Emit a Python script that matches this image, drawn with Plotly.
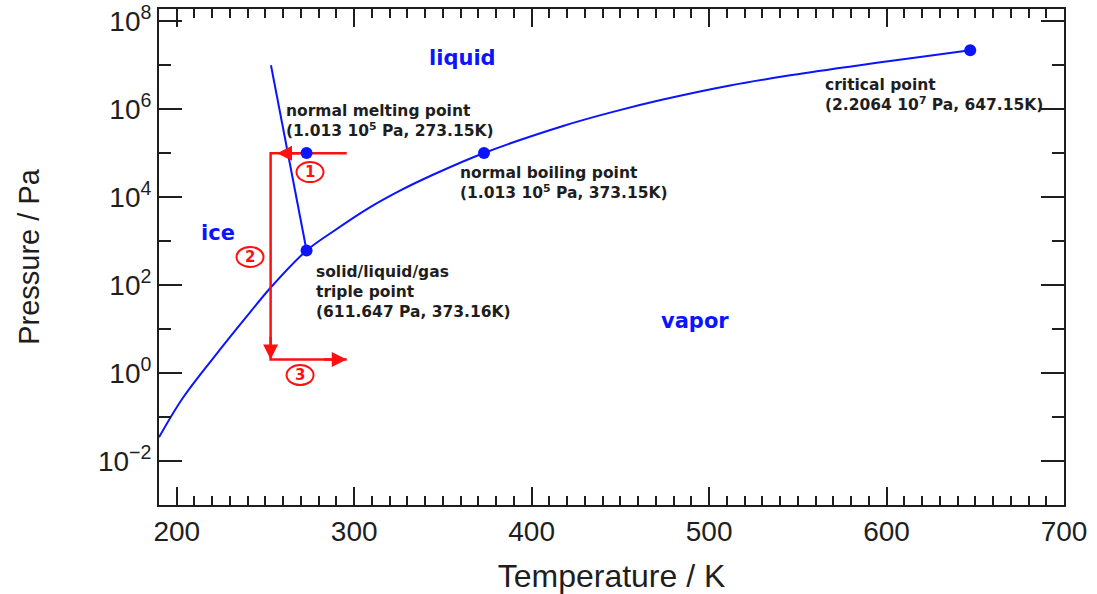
import math
import plotly.graph_objects as go

# ---- data ----
# vapor-pressure / sublimation curve (T in K, P in Pa)
curve_T = [190.0, 203.5, 222.7, 241.3, 252.6, 273.16, 288.1, 307.2, 325.8, 344.4,
           373.15, 417.7, 445.8, 474.0, 511.8, 543.9, 581.1, 618.9, 647.15]
curve_P = [0.0347, 0.275, 2.82, 24.0, 85.1, 611.647, 1660, 5370, 14100, 32400,
           101300, 417000, 871000, 1660000, 3470000, 5750000, 9550000, 15500000, 22064000]

# melting line (straight in the log plot)
melt_T = [253.1, 273.16]
melt_P = [1.0e7, 611.647]

# special points
point_names = ["normal melting point", "normal boiling point", "triple point", "critical point"]
point_T = [273.15, 373.15, 273.16, 647.15]
point_P = [1.013e5, 1.013e5, 611.647, 2.2064e7]

# red path 1 -> 2 -> 3
path_T = [295.8, 252.9, 252.9, 295.8]
path_P = [1.0e5, 1.0e5, 2.05, 2.05]

# labels
label_texts = [
    "normal melting point<br>(1.013 10<sup>5</sup> Pa, 273.15K)",
    "normal boiling point<br>(1.013 10<sup>5</sup> Pa, 373.15K)",
    "solid/liquid/gas<br>triple point<br>(611.647 Pa, 373.16K)",
    "critical point<br>(2.2064 10<sup>7</sup> Pa, 647.15K)",
]
label_T = [260.3, 358.4, 277.2, 564.1]
label_P = [5.5e5, 2.14e4, 69.0, 2.14e6]

region_texts = ["liquid", "ice", "vapor"]
region_T = [361.3, 223.2, 492.1]
region_P = [1.45e7, 1510, 15.1]

step_texts = ["1", "2", "3"]
step_T = [275.1, 241.3, 269.5]
step_P = [37200, 437, 0.90]

x_ticks = [200, 300, 400, 500, 600, 700]
x_minor = list(range(190, 701, 10))
y_tick_exp = [-2, 0, 2, 4, 6, 8]
y_minor_exp = [-3, -1, 1, 3, 5, 7]
Y_RANGE = [-3.0, 8.28]   # log10 range of the pressure axis

BLUE = "#0a14ff"
RED = "#ff1010"
INK = "#1e1e1e"
FONT = "Liberation Sans, Arial, Helvetica, sans-serif"
BFONT = "DejaVu Sans, Verdana, sans-serif"

fig = go.Figure()
fig.add_trace(go.Scatter(x=curve_T, y=curve_P, mode="lines",
                         line=dict(color=BLUE, width=2, shape="spline", smoothing=1.0),
                         hoverinfo="skip"))
fig.add_trace(go.Scatter(x=melt_T, y=melt_P, mode="lines",
                         line=dict(color=BLUE, width=2), hoverinfo="skip"))
fig.add_trace(go.Scatter(x=path_T, y=path_P, mode="lines",
                         line=dict(color=RED, width=2.5), hoverinfo="skip"))
fig.add_trace(go.Scatter(x=point_T, y=point_P, mode="markers", text=point_names,
                         marker=dict(color=BLUE, size=12), hoverinfo="text"))

ann = []
# arrow heads of the red path
heads = [(256.5, path_P[0], 24, 0), (path_T[1], path_P[2], 0, -24), (path_T[3], path_P[3], -24, 0)]
for hx, hy, ax, ay in heads:
    ann.append(dict(x=hx, y=math.log10(hy), xref="x", yref="y", text="", showarrow=True,
                    ax=ax, ay=ay, arrowhead=2, arrowsize=1.2, arrowwidth=2.5,
                    arrowcolor=RED, standoff=0))
for t, x, p in zip(label_texts, label_T, label_P):
    ann.append(dict(x=x, y=math.log10(p), xref="x", yref="y", text=t, showarrow=False,
                    xanchor="left", yanchor="middle", align="left",
                    font=dict(family=BFONT, size=15.5, color=INK, weight="bold")))
for t, x, p in zip(region_texts, region_T, region_P):
    ann.append(dict(x=x, y=math.log10(p), xref="x", yref="y", text=t, showarrow=False,
                    xanchor="center", yanchor="middle",
                    font=dict(family=BFONT, size=21, color=BLUE, weight="bold")))
shapes = []
for t, x, p in zip(step_texts, step_T, step_P):
    ann.append(dict(x=x, y=math.log10(p), xref="x", yref="y", text=t, showarrow=False,
                    xanchor="center", yanchor="middle",
                    font=dict(family=BFONT, size=15, color=RED, weight="bold")))
    frac = (math.log10(p) - Y_RANGE[0]) / (Y_RANGE[1] - Y_RANGE[0])
    shapes.append(dict(type="circle", xref="x", yref="y domain",
                       xsizemode="pixel", ysizemode="pixel",
                       xanchor=x, yanchor=frac, x0=-13.5, x1=13.5, y0=-10, y1=10,
                       line=dict(color=RED, width=2)))

fig.update_layout(
    width=1097, height=594,
    margin=dict(l=159, r=33, t=9, b=89, autoexpand=False),
    paper_bgcolor="white", plot_bgcolor="white",
    showlegend=False,
    annotations=ann, shapes=shapes,
    font=dict(family=FONT, color=INK),
)
fig.update_xaxes(
    range=[190, 700], tickvals=x_ticks, ticktext=[str(v) for v in x_ticks],
    ticks="inside", ticklen=18, tickwidth=2, tickcolor=INK,
    showline=True, linecolor=INK, linewidth=2, mirror="ticks",
    showgrid=False, zeroline=False,
    tickfont=dict(family=FONT, size=28, color=INK),
    minor=dict(tickvals=x_minor, ticks="inside", ticklen=9, tickwidth=2, tickcolor=INK, showgrid=False),
    title=dict(text="Temperature / K", font=dict(family=FONT, size=32, color=INK), standoff=20),
    automargin=False,
)
fig.update_yaxes(
    type="log", range=Y_RANGE,
    tickvals=[10**e for e in y_tick_exp],
    ticktext=["10<sup>%s</sup>" % (str(e).replace("-", "\u2212")) for e in y_tick_exp],
    ticks="inside", ticklen=23, tickwidth=2, tickcolor=INK,
    showline=True, linecolor=INK, linewidth=2, mirror="ticks",
    showgrid=False, zeroline=False,
    tickfont=dict(family=FONT, size=28, color=INK),
    minor=dict(tickvals=[10**e for e in y_minor_exp], ticks="inside", ticklen=12, tickwidth=2,
               tickcolor=INK, showgrid=False),
    title=dict(text="Pressure / Pa", font=dict(family=FONT, size=29, color=INK), standoff=50),
    automargin=False,
)

fig.write_html("out.html")
